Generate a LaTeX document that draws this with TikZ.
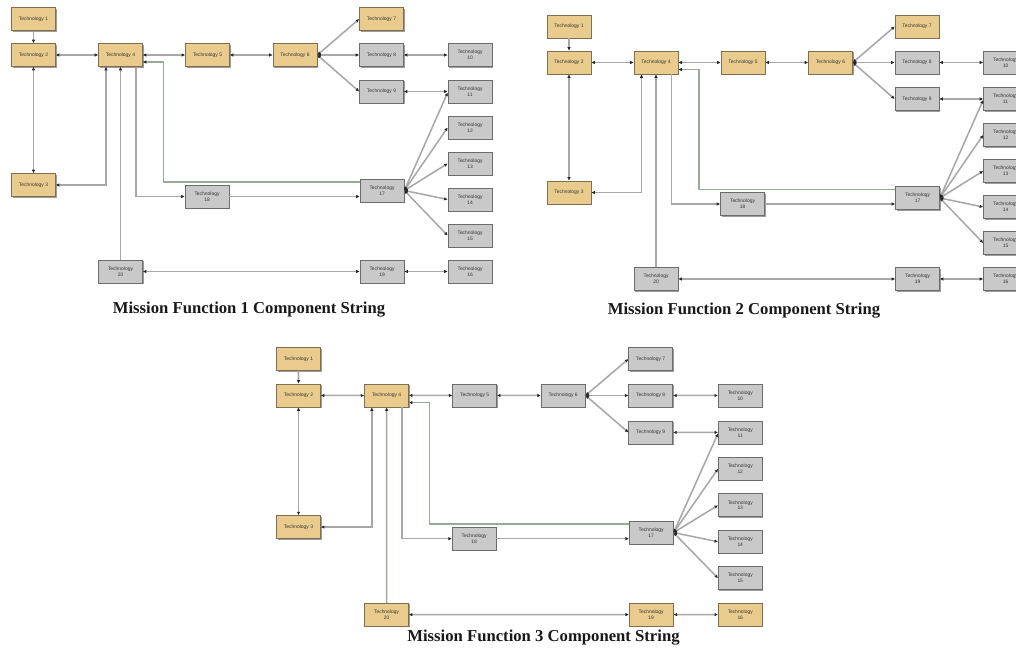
\documentclass[tikz,border=0pt]{standalone}
\usepackage{fontspec}
\setmainfont{Liberation Serif}
\newfontfamily\boxfont{Liberation Sans}
\usetikzlibrary{arrows.meta,shadows}

\definecolor{tanfill}{RGB}{233,204,141}
\definecolor{tanedge}{RGB}{128,110,78}
\definecolor{greyfill}{RGB}{201,201,201}
\definecolor{greyedge}{RGB}{108,108,108}
\definecolor{wire}{RGB}{168,168,168}
\definecolor{greenwire}{RGB}{150,172,150}

\tikzset{
  techbox/.style={draw, line width=0.5pt, minimum width=33pt, minimum height=17.25pt,
    inner sep=0pt, align=center, font=\boxfont\fontsize{3.7}{4.4}\selectfont,
    drop shadow={shadow xshift=0.8pt, shadow yshift=-0.8pt, opacity=0.55, fill=black!70}},
  tanbox/.style={techbox, fill=tanfill, draw=tanedge, text=black!80},
  greybox/.style={techbox, fill=greyfill, draw=greyedge, text=black!80},
  wirelink/.style={draw=wire, line width=1.15pt,
    >={Latex[length=2.6pt,width=2.6pt,color=black!85]}},
  feedwire/.style={wirelink, draw=greenwire},
  caption/.style={font=\bfseries\fontsize{12.5}{15}\selectfont, anchor=base, text=black!90}
}

% One component string: #1 name prefix, #2 style of technologies 5-7,
% #3 style of technologies 16, 19, 20, #4 style of the 20 -> 4 link
\newcommand\missionpanel[4]{%
  \node[tanbox] (#1t1) at (33.5,19) {Technology 1};
  \node[tanbox] (#1t2) at (33.5,55) {Technology 2};
  \node[tanbox] (#1t3) at (33.5,185) {Technology 3};
  \node[tanbox] (#1t4) at (120.5,55) {Technology 4};
  \node[#2] (#1t5) at (207.5,55) {Technology 5};
  \node[#2] (#1t6) at (295,55) {Technology 6};
  \node[#2] (#1t7) at (381.5,19) {Technology 7};
  \node[greybox] (#1t8) at (381.5,55) {Technology 8};
  \node[greybox] (#1t9) at (381.5,91.5) {Technology 9};
  \node[greybox] (#1t10) at (470,55) {Technology\\10};
  \node[greybox] (#1t11) at (470,91.5) {Technology\\11};
  \node[greybox] (#1t12) at (470,127.5) {Technology\\12};
  \node[greybox] (#1t13) at (470,163.5) {Technology\\13};
  \node[greybox] (#1t14) at (470,199.5) {Technology\\14};
  \node[greybox] (#1t15) at (470,235.5) {Technology\\15};
  \node[#3] (#1t16) at (470,271.5) {Technology\\16};
  \node[greybox] (#1t17) at (382,190.5) {Technology\\17};
  \node[greybox] (#1t18) at (207,196.5) {Technology\\18};
  \node[#3] (#1t19) at (382,271.5) {Technology\\19};
  \node[#3] (#1t20) at (120.5,271.5) {Technology\\20};
  % links
  \draw[wirelink,->] (#1t1) -- (#1t2);
  \draw[wirelink,<->] (#1t2) -- (#1t4);
  \draw[wirelink,<->] (#1t2) -- (#1t3);
  \draw[wirelink,<->] (#1t4) -- (#1t5);
  \draw[wirelink,<->] (#1t5) -- (#1t6);
  \draw[wirelink,<->] (#1t6.east) -- (#1t7.west);
  \draw[wirelink,<->] (#1t6.east) -- (#1t8.west);
  \draw[wirelink,<->] (#1t6.east) -- (#1t9.west);
  \draw[wirelink,<->] (#1t8) -- (#1t10);
  \draw[wirelink,<->] (#1t9) -- (#1t11);
  \draw[wirelink,<->] (#1t17.east) -- ([yshift=-0.8pt]#1t11.west);
  \draw[wirelink,<->] (#1t17.east) -- (#1t12.west);
  \draw[wirelink,<->] (#1t17.east) -- (#1t13.west);
  \draw[wirelink,<->] (#1t17.east) -- (#1t14.west);
  \draw[wirelink,<->] (#1t17.east) -- (#1t15.west);
  \draw[wirelink,<->] (#1t19) -- (#1t16);
  \draw[wirelink,<->] (#1t20) -- (#1t19);
  \draw[#4,->] (#1t20) -- (#1t4);
  \draw[wirelink,<->] ([xshift=-10.875pt]#1t4.south) |- (#1t3.east);
  \draw[wirelink,->] ([xshift=11.625pt]#1t4.south) |- (#1t18.west);
  \draw[wirelink,->] (#1t18.east) -- (#1t18.east -| #1t17.west);
  \coordinate (#1in) at ([yshift=-5.25pt]#1t4.east);
  \coordinate (#1out) at ([yshift=6.375pt]#1t17.west);
  \draw[feedwire,->] (#1out) -| ([xshift=15.375pt]#1in) -- (#1in);
}

\begin{document}
\begin{tikzpicture}[x=0.75pt,y=-0.75pt]
  \clip (0,0) rectangle (1016,653);
  \fill[white] (0,0) rectangle (1016,653);

  \begin{scope}
    \missionpanel{a}{tanbox}{greybox}{wirelink}
  \end{scope}
  \begin{scope}[shift={(535.5,7.5)}]
    \missionpanel{b}{tanbox}{greybox}{wirelink}
  \end{scope}
  \begin{scope}[shift={(264.6,339.8)},scale=1.012]
    \missionpanel{c}{greybox}{tanbox}{feedwire}
  \end{scope}

  \node[caption] (cap1) at (249,313) {Mission Function 1 Component String};
  \node[caption] (cap2) at (744,314) {Mission Function 2 Component String};
  \node[caption] (cap3) at (543.5,641) {Mission Function 3 Component String};
\end{tikzpicture}
\end{document}
